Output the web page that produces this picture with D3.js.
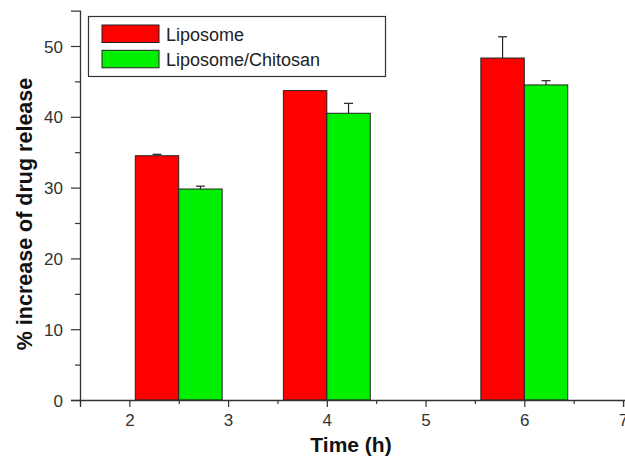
<!DOCTYPE html>
<html>
<head>
<meta charset="utf-8">
<script src="https://cdn.jsdelivr.net/npm/d3@7"></script>
<style>
  body { margin: 0; background: #fff; }
  text { font-family: "Liberation Sans", Arial, sans-serif; }
</style>
</head>
<body>
<svg id="chart" width="625" height="457"></svg>
<script>
// group centres on the time axis (h)
var times = [2.5, 4, 6];
var series = ["Liposome", "Liposome/Chitosan"];
var colors = ["#ff0000", "#00f000"];
var liposome = [34.5, 43.7, 48.3];
var liposomeErr = [0.2, 0, 3.0];
var chitosan = [29.8, 40.5, 44.5];
var chitosanErr = [0.4, 1.4, 0.6];
var xTicks = [2, 3, 4, 5, 6, 7];
var yTicks = [0, 10, 20, 30, 40, 50];

var svg = d3.select("#chart");

var x = d3.scaleLinear().domain([1.5, 7.02]).range([80, 625]);
var y = d3.scaleLinear().domain([0, 55]).range([400, 10.6]);
var barW = 0.44;

var values = [liposome, chitosan];
var errs = [liposomeErr, chitosanErr];

var bars = [];
series.forEach(function(name, si) {
  times.forEach(function(t, i) {
    bars.push({
      s: si, x0: si === 0 ? t - barW : t, v: values[si][i], e: errs[si][i]
    });
  });
});

// error bars (drawn first, bar covers lower part)
var eb = svg.append("g").selectAll("g").data(bars.filter(function(d) { return d.e > 0; }))
  .enter().append("g")
  .attr("stroke", "#222").attr("stroke-width", 1.2);
eb.append("line")
  .attr("x1", function(d) { return x(d.x0 + barW / 2); })
  .attr("x2", function(d) { return x(d.x0 + barW / 2); })
  .attr("y1", function(d) { return y(d.v); })
  .attr("y2", function(d) { return y(d.v + d.e); });
eb.append("line")
  .attr("x1", function(d) { return x(d.x0 + barW / 2) - 4.5; })
  .attr("x2", function(d) { return x(d.x0 + barW / 2) + 4.5; })
  .attr("y1", function(d) { return y(d.v + d.e); })
  .attr("y2", function(d) { return y(d.v + d.e); });

svg.append("g").selectAll("rect").data(bars)
  .enter().append("rect")
  .attr("x", function(d) { return x(d.x0); })
  .attr("width", function(d) { return x(d.x0 + barW) - x(d.x0); })
  .attr("y", function(d) { return y(d.v); })
  .attr("height", function(d) { return y(0) - y(d.v); })
  .attr("fill", function(d) { return colors[d.s]; })
  .attr("stroke", "#222")
  .attr("stroke-width", 1);

// axes
var minorX = d3.range(1.5, 7.01, 0.5).filter(function(v) { return xTicks.indexOf(v) < 0; });
var minorY = d3.range(5, 55, 10);

var xAxis = svg.append("g").attr("transform", "translate(0,400)")
  .call(d3.axisBottom(x).tickValues(xTicks).tickSize(7).tickPadding(7).tickFormat(d3.format("d")));
svg.append("g").attr("transform", "translate(0,400)")
  .call(d3.axisBottom(x).tickValues(minorX).tickSize(4).tickFormat(""))
  .select(".domain").remove();

var yAxis = svg.append("g").attr("transform", "translate(80,0)")
  .call(d3.axisLeft(y).tickValues(yTicks).tickSize(9).tickPadding(8).tickFormat(d3.format("d")));
svg.append("g").attr("transform", "translate(80,0)")
  .call(d3.axisLeft(y).tickValues(minorY).tickSize(5).tickFormat(""))
  .select(".domain").remove();

svg.selectAll(".domain").attr("stroke", "#333").attr("stroke-width", 1.3);
svg.selectAll(".tick line").attr("stroke", "#333").attr("stroke-width", 1.2);
svg.selectAll(".tick text").attr("font-size", 17).attr("fill", "#333")
  .attr("font-family", "Liberation Sans, Arial, sans-serif");
yAxis.selectAll(".tick text").attr("dy", "0.36em");

// axis titles
svg.append("text")
  .attr("x", 351).attr("y", 452)
  .attr("text-anchor", "middle")
  .attr("font-size", 21).attr("font-weight", "bold").attr("fill", "#111")
  .text("Time (h)");
svg.append("text")
  .attr("transform", "translate(32,214) rotate(-90)")
  .attr("text-anchor", "middle")
  .attr("font-size", 21.5).attr("font-weight", "bold").attr("fill", "#111")
  .text("% increase of drug release");

// legend
var lg = svg.append("g");
lg.append("rect")
  .attr("x", 88.5).attr("y", 16.5).attr("width", 297).attr("height", 60)
  .attr("fill", "#fff").attr("stroke", "#333").attr("stroke-width", 1.2);
series.forEach(function(name, i) {
  lg.append("rect")
    .attr("x", 102).attr("y", 25 + i * 25.3).attr("width", 57).attr("height", 17.5)
    .attr("fill", colors[i]).attr("stroke", "#222").attr("stroke-width", 1);
  lg.append("text")
    .attr("x", 166).attr("y", 40.5 + i * 25.3)
    .attr("font-size", 18).attr("fill", "#222")
    .text(name);
});
</script>
</body>
</html>
